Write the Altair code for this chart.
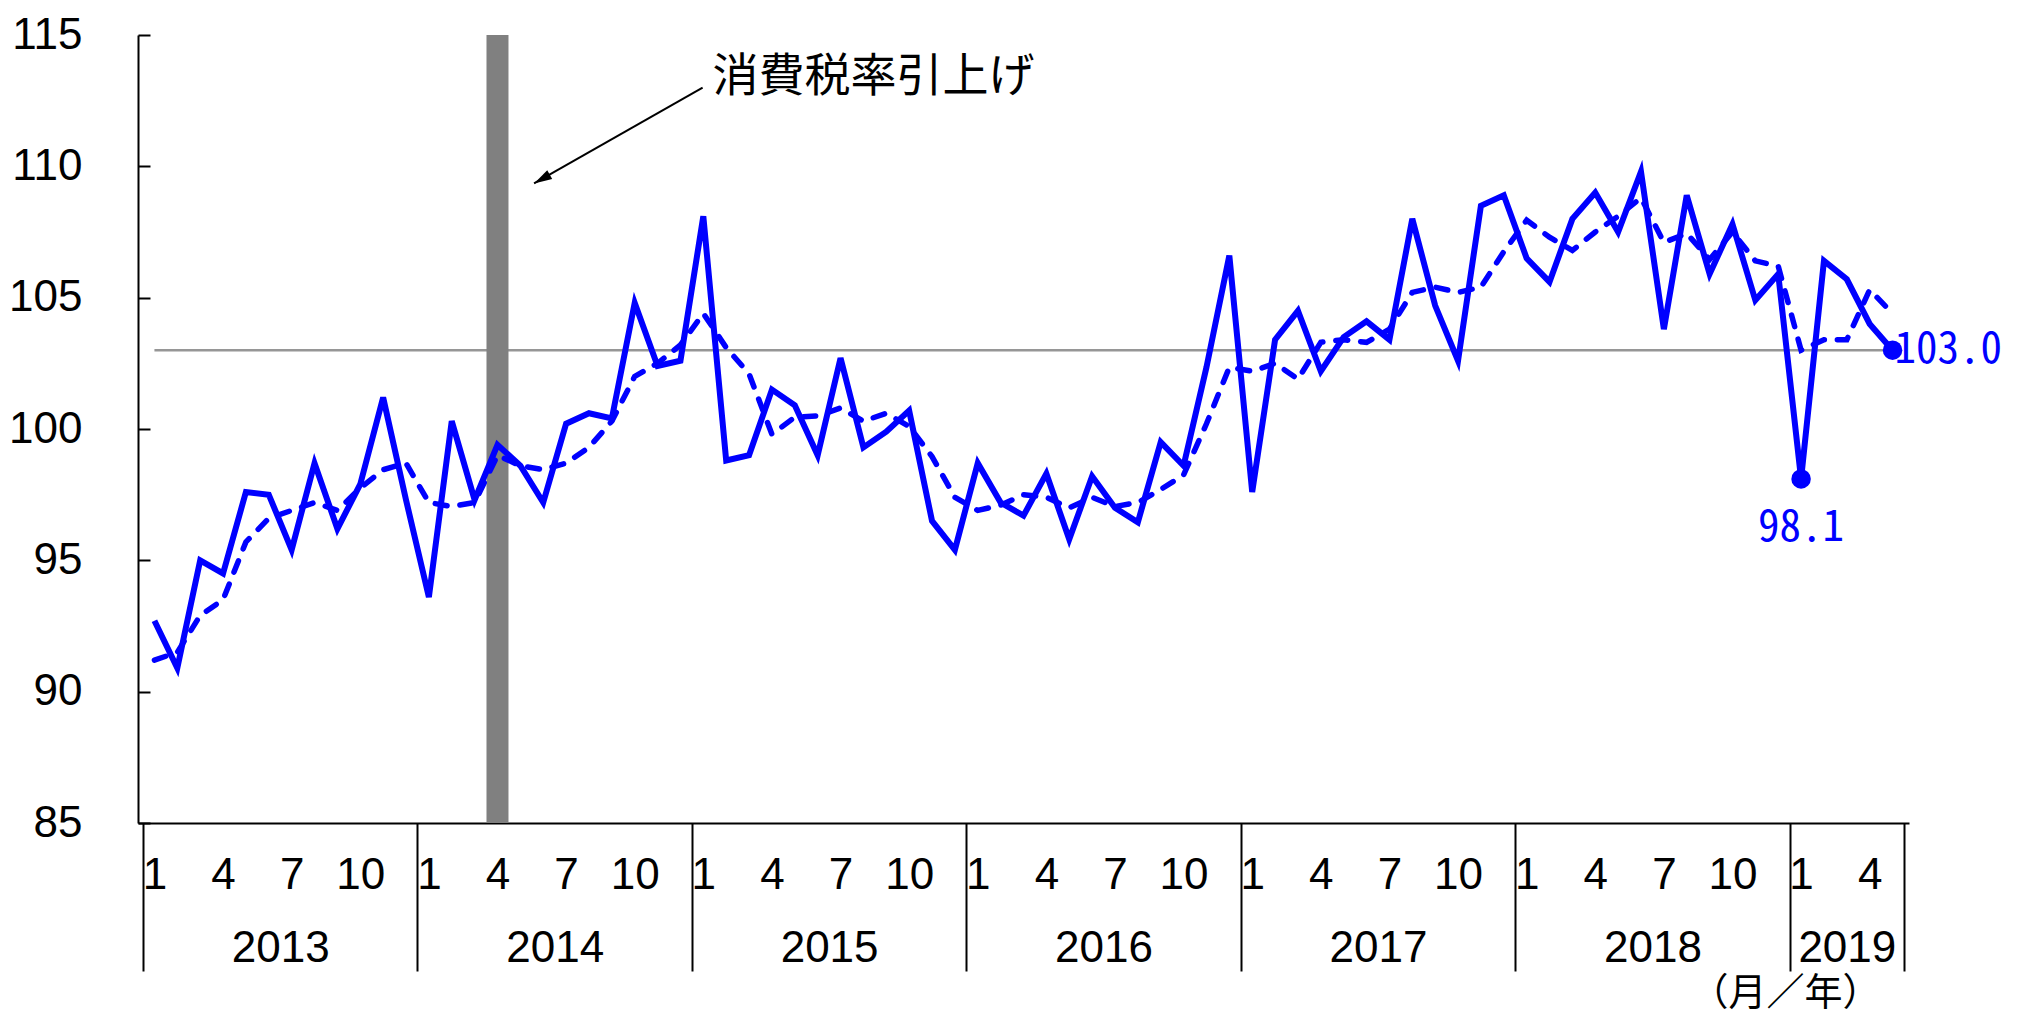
import altair as alt
import pandas as pd

# ---- data ----
month_index = list(range(77))  # Jan 2013 .. May 2019
solid = [
    92.7, 90.9, 95.0, 94.5, 97.6, 97.5, 95.4, 98.7, 96.2, 97.9, 101.2, 97.3,
    93.6, 100.3, 97.3, 99.4, 98.6, 97.2, 100.2, 100.6, 100.4, 104.8, 102.4, 102.6,
    108.1, 98.8, 99.0, 101.5, 100.9, 99.0, 102.7, 99.3, 99.9, 100.7, 96.5, 95.4,
    98.7, 97.2, 96.7, 98.3, 95.8, 98.2, 97.0, 96.45, 99.5, 98.6, 102.35, 106.6,
    97.6, 103.4, 104.5, 102.2, 103.5, 104.1, 103.4, 108.0, 104.7, 102.6, 108.5, 108.9,
    106.5, 105.6, 108.0, 109.0, 107.5, 109.8, 103.8, 108.9, 105.9, 107.8, 104.9, 105.9,
    98.1, 106.4, 105.7, 104.0, 103.0,
]
dashed = [
    91.2, 91.5, 92.9, 93.5, 95.7, 96.6, 96.9, 97.2, 96.9, 97.75, 98.45, 98.7,
    97.2, 97.05, 97.2, 99.0, 98.6, 98.45, 98.7, 99.3, 100.3, 102.0, 102.5, 103.2,
    104.4, 103.1, 102.1, 99.8, 100.45, 100.5, 100.8, 100.3, 100.6, 100.1, 98.95, 97.4,
    96.9, 97.1, 97.5, 97.4, 97.0, 97.4, 97.05, 97.2, 97.7, 98.25, 100.2, 102.35,
    102.2, 102.5, 101.9, 103.3, 103.4, 103.3, 103.8, 105.2, 105.4, 105.2, 105.4, 106.75,
    107.95, 107.3, 106.8, 107.5, 108.1, 108.8, 107.1, 107.45, 106.45, 107.5, 106.4, 106.2,
    103.0, 103.4, 103.4, 105.3, 104.4,
]
ref_value = 103.0

y_domain = [85, 115]
y_ticks = [85, 90, 95, 100, 105, 110, 115]
x_domain = [-0.5, 76.5]

month_ticks = [0, 3, 6, 9, 12, 15, 18, 21, 24, 27, 30, 33, 36, 39, 42, 45,
               48, 51, 54, 57, 60, 63, 66, 69, 72, 75]
month_tick_labels = ["1", "4", "7", "10"] * 6 + ["1", "4"]

year_labels = ["2013", "2014", "2015", "2016", "2017", "2018", "2019"]
year_centers = [5.5, 17.5, 29.5, 41.5, 53.5, 65.5, 74]
year_bounds = [-0.5, 11.5, 23.5, 35.5, 47.5, 59.5, 71.5, 76.5]

event_index = [15]          # April 2014
event_label = "消費税率引上げ"
event_text_pos = [24.4, 113.4]
arrow_x = [23.97, 16.6]
arrow_y = [113.0, 109.35]

highlight_index = [72, 76]
highlight_value = [98.1, 103.0]

# ---- helpers ----
def label_expr(values, labels):
    expr = "''"
    for v, l in reversed(list(zip(values, labels))):
        expr = f"(datum.value == {v} ? '{l}' : {expr})"
    return expr

AXIS_FONT = "Liberation Sans Narrow, Liberation Sans, Arial"
MONO_FONT = "Noto Sans Mono CJK JP, DejaVu Sans Mono, monospace"
CJK_FONT = "Noto Sans CJK JP"
BLUE = "#0000FF"
AX_FS = 44

df = pd.DataFrame({
    "idx": month_index,
    "solid": solid,
    "dashed": dashed,
    "ref": [ref_value] * len(month_index),
})
ev_df = pd.DataFrame({"idx": event_index, "lo": [y_domain[0]], "hi": [y_domain[1]]})
hl_df = pd.DataFrame({"idx": highlight_index, "val": highlight_value})
arrow_df = pd.DataFrame({"x": arrow_x, "y": arrow_y})
arrow_head_df = pd.DataFrame({"x": [arrow_x[-1]], "y": [arrow_y[-1]]})
ann_df = pd.DataFrame({"x": [event_text_pos[0]], "y": [event_text_pos[1]], "t": [event_label]})

xs = alt.Scale(domain=x_domain, nice=False, zero=False)
ys = alt.Scale(domain=y_domain, nice=False, zero=False)

x_month_axis = alt.Axis(
    values=month_ticks, labelExpr=label_expr(month_ticks, month_tick_labels),
    orient="bottom", ticks=False, tickSize=0, domain=True, domainColor="black",
    domainWidth=2, grid=False, labelFont=AXIS_FONT, labelFontSize=AX_FS,
    labelColor="black", labelPadding=30, labelOverlap=False, labelFlush=False,
    labelBound=False, title=None,
)
y_main_axis = alt.Axis(
    values=y_ticks, orient="left", ticks=False, tickSize=0, domain=True,
    domainColor="black", domainWidth=2, grid=False, labelFont=AXIS_FONT,
    labelFontSize=AX_FS, labelColor="black", labelPadding=56, labelOverlap=False,
    labelFlush=False, title=None,
)
divider_axis = alt.Axis(
    values=year_bounds, orient="bottom", labels=False, domain=False, ticks=True,
    tickSize=148, tickWidth=2, tickColor="black", grid=False, title=None,
)
y_tick_axis = alt.Axis(
    values=y_ticks, orient="left", offset=-12, labels=False, domain=False,
    ticks=True, tickSize=12, tickWidth=2, tickColor="black", grid=False, title=None,
)
year_axis = alt.Axis(
    values=year_centers, labelExpr=label_expr(year_centers, year_labels),
    orient="bottom", ticks=False, domain=False, grid=False, labelPadding=103,
    labelFont=AXIS_FONT, labelFontSize=AX_FS, labelColor="black", labelOverlap=False,
    labelFlush=False, labelBound=False,
    title="（月／年）", titleX=1647, titleY=170, titleAlign="center",
    titleBaseline="middle", titleFont=CJK_FONT, titleFontSize=38,
    titleFontWeight="normal", titleColor="black",
)

ref_line = alt.Chart(df).mark_line(color="#969696", strokeWidth=2.5).encode(
    x=alt.X("idx:Q", scale=xs, axis=x_month_axis),
    y=alt.Y("ref:Q", scale=ys, axis=y_main_axis),
)
bar = alt.Chart(ev_df).mark_bar(size=22, color="#808080").encode(
    x=alt.X("idx:Q", scale=xs, axis=None),
    y=alt.Y("hi:Q", scale=ys, axis=None),
    y2="lo:Q",
)
dash_line = alt.Chart(df).mark_line(
    color=BLUE, strokeWidth=5.5, strokeDash=[12, 13], strokeCap="round"
).encode(
    x=alt.X("idx:Q", scale=xs, axis=None),
    y=alt.Y("dashed:Q", scale=ys, axis=None),
)
solid_line = alt.Chart(df).mark_line(color=BLUE, strokeWidth=6).encode(
    x=alt.X("idx:Q", scale=xs, axis=None),
    y=alt.Y("solid:Q", scale=ys, axis=None),
)
points = alt.Chart(hl_df).mark_circle(size=380, color=BLUE, opacity=1).encode(
    x=alt.X("idx:Q", scale=xs, axis=None),
    y=alt.Y("val:Q", scale=ys, axis=None),
)
label_low = alt.Chart(hl_df.iloc[[0]]).mark_text(
    font=MONO_FONT, fontSize=43, color=BLUE, baseline="middle", align="center", dy=49
).encode(
    x=alt.X("idx:Q", scale=xs, axis=None),
    y=alt.Y("val:Q", scale=ys, axis=None),
    text=alt.Text("val:Q", format=".1f"),
)
label_last = alt.Chart(hl_df.iloc[[1]]).mark_text(
    font=MONO_FONT, fontSize=43, color=BLUE, baseline="middle", align="left", dx=2
).encode(
    x=alt.X("idx:Q", scale=xs, axis=None),
    y=alt.Y("val:Q", scale=ys, axis=None),
    text=alt.Text("val:Q", format=".1f"),
)
arrow_line = alt.Chart(arrow_df).mark_line(color="black", strokeWidth=2).encode(
    x=alt.X("x:Q", scale=xs, axis=None),
    y=alt.Y("y:Q", scale=ys, axis=None),
)
arrow_head = alt.Chart(arrow_head_df).mark_point(
    shape="M0,0L0.28,1L-0.28,1Z", size=1296, filled=True, color="black",
    opacity=1, angle=240.5,
).encode(
    x=alt.X("x:Q", scale=xs, axis=None),
    y=alt.Y("y:Q", scale=ys, axis=None),
)
ann_text = alt.Chart(ann_df).mark_text(
    font=CJK_FONT, fontSize=46, color="black", align="left", baseline="middle"
).encode(
    x=alt.X("x:Q", scale=xs, axis=None),
    y=alt.Y("y:Q", scale=ys, axis=None),
    text="t:N",
)
tick_layer = alt.Chart(df).mark_point(opacity=0).encode(
    x=alt.X("idx:Q", scale=xs, axis=divider_axis),
    y=alt.Y("solid:Q", scale=ys, axis=y_tick_axis),
)
year_layer = alt.Chart(df).mark_point(opacity=0).encode(
    x=alt.X("idx:Q", scale=xs, axis=year_axis),
    y=alt.Y("solid:Q", scale=ys, axis=None),
)

chart = alt.layer(
    ref_line, bar, dash_line, solid_line, points, label_low, label_last,
    arrow_line, arrow_head, ann_text, tick_layer, year_layer,
).resolve_axis(x="independent", y="independent").properties(
    width=1771, height=788, background="white",
    padding={"left": 0, "top": 5, "right": 5, "bottom": 4},
).configure_view(stroke=None)

chart.save("out.html", embed_options={"renderer": "svg", "actions": False})
